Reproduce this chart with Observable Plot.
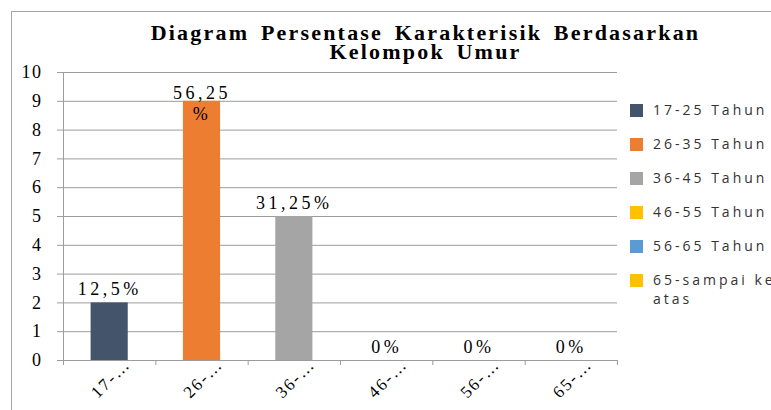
<!DOCTYPE html>
<html>
<head>
<meta charset="utf-8">
<script src="https://cdn.jsdelivr.net/npm/d3@7"></script>
<script src="https://cdn.jsdelivr.net/npm/@observablehq/plot@0.6"></script>
<style>
  html, body { margin: 0; padding: 0; background: #fff; }
  #wrap { position: relative; width: 771px; height: 410px; overflow: hidden; background: #fff; }
  #border { position: absolute; left: 11px; top: 11px; width: 900px; height: 500px; border: 1.5px solid #a6a6a6; box-sizing: border-box; }
  #chart { position: absolute; left: 0; top: 0; }
  #title { position: absolute; left: 0; top: 22.5px; width: 851px; text-align: center;
    font-family: "Liberation Serif", "Times New Roman", serif; font-weight: bold; font-size: 22px;
    line-height: 19.5px; letter-spacing: 2.2px; word-spacing: 4px; color: #000; }
  #legend { position: absolute; left: 630px; top: 99.5px; font-family: "Open Sans", sans-serif; font-size: 14px; color: #333; }
  .item { display: flex; align-items: flex-start; height: 34.2px; }
  .sw { width: 13px; height: 13px; margin-top: 4px; margin-right: 10px; flex: none; }
  .lab { width: 140px; line-height: 19px; letter-spacing: 3px; white-space: normal; }
</style>
</head>
<body>
<div id="wrap">
  <div id="border"></div>
  <div id="chart"></div>
  <div id="title">Diagram Persentase Karakterisik Berdasarkan<br>Kelompok Umur</div>
  <div id="legend"></div>
</div>
<script>
const categories = ["17-25 Tahun", "26-35 Tahun", "36-45 Tahun", "46-55 Tahun", "56-65 Tahun", "65-sampai ke atas"];
const values = [2, 9, 5, 0, 0, 0];
const labels = ["12,5%", "56,25%", "31,25%", "0%", "0%", "0%"];
const colors = ["#44546A", "#ED7D31", "#A5A5A5", "#FFC000", "#5B9BD5", "#FFC000"];
const yTicks = [0, 1, 2, 3, 4, 5, 6, 7, 8, 9, 10];

const rows = categories.map((c, i) => ({i, cat: c, value: values[i], label: labels[i]}));
const grid = "#9c9c9c";
const serif = "'Liberation Serif', 'Times New Roman', serif";

const svg = Plot.plot({
  width: 771,
  height: 410,
  marginLeft: 63,
  marginRight: 154,
  marginTop: 72,
  marginBottom: 50,
  x: {domain: [0, categories.length], axis: null},
  y: {domain: [0, 10], axis: null},
  color: {domain: categories, range: colors},
  style: {fontFamily: serif, background: "transparent", color: "#000"},
  marks: [
    Plot.ruleY(yTicks.slice(1), {stroke: grid, strokeWidth: 1}),
    Plot.rectY(rows, {x1: "i", x2: d => d.i + 1, y: "value", fill: "cat", insetLeft: 27.6, insetRight: 27.6}),
    Plot.ruleX([0], {y1: 0, y2: 10, stroke: grid}),
    Plot.ruleY([0], {stroke: grid}),
    Plot.axisY({ticks: yTicks, tickSize: 6, tickPadding: 15, stroke: grid, fill: "#000", fontSize: 18, label: null, tickFormat: d => String(d)}),
    Plot.axisX({ticks: d3.range(categories.length + 1), tickSize: 5, tickFormat: () => "", stroke: grid, label: null}),
    Plot.axisX({ticks: d3.range(categories.length).map(i => i + 0.5), tickSize: 0, tickPadding: 1, tickRotate: -45,
      tickFormat: v => categories[Math.floor(v)].slice(0, 3) + "\u2026", fontSize: 17, fill: "#000", dx: 18, label: null}),
    Plot.text(rows.filter(d => d.value <= 8), {x: d => d.i + 0.5, y: "value", text: "label", lineAnchor: "bottom", dy: -8, fontSize: 18, fill: "#000"}),
    Plot.text(rows.filter(d => d.value > 8), {x: d => d.i + 0.5, y: "value", text: d => d.label.replace("%", "\n%"), lineAnchor: "top", lineHeight: 1.17, dy: -17, fontSize: 18, fill: "#000"})
  ]
});
document.getElementById("chart").appendChild(svg);

const s = d3.select(svg);
s.selectAll('g[aria-label="text"] text').style("letter-spacing", "3.5px");
s.selectAll('g[aria-label="y-axis tick label"] text').style("letter-spacing", "1.5px");
s.selectAll('g[aria-label="x-axis tick label"] text').style("letter-spacing", "2px");

const legend = d3.select("#legend");
categories.forEach((c, i) => {
  const it = legend.append("div").attr("class", "item");
  it.append("div").attr("class", "sw").style("background", colors[i]);
  it.append("div").attr("class", "lab").text(c);
});
</script>
</body>
</html>
